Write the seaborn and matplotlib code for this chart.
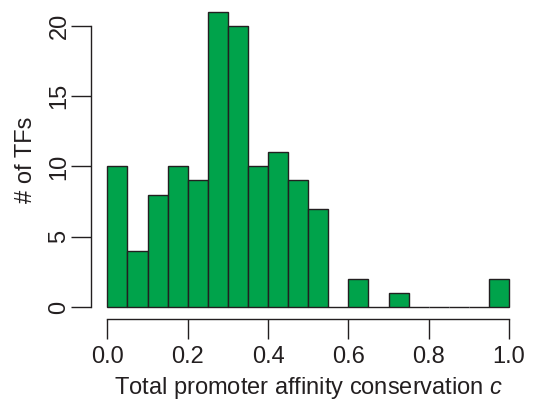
import numpy as np
import pandas as pd
import matplotlib
matplotlib.use("Agg")
import matplotlib.pyplot as plt
import seaborn as sns

# histogram bins (width 0.05) and counts
bin_edges = [0.00, 0.05, 0.10, 0.15, 0.20, 0.25, 0.30, 0.35, 0.40, 0.45, 0.50,
             0.55, 0.60, 0.65, 0.70, 0.75, 0.80, 0.85, 0.90, 0.95, 1.00]
counts = [10, 4, 8, 10, 9, 21, 20, 10, 11, 9, 7,
          0, 2, 0, 1, 0, 0, 0, 0, 2]
x_ticks = [0.0, 0.2, 0.4, 0.6, 0.8, 1.0]
y_ticks = [0, 5, 10, 15, 20]

sns.set_style("ticks")
plt.rcParams["font.family"] = ["Liberation Sans", "DejaVu Sans"]
plt.rcParams["mathtext.fontset"] = "custom"
plt.rcParams["mathtext.it"] = "Liberation Sans:italic"
plt.rcParams["mathtext.rm"] = "Liberation Sans"

ink = "#231f20"
green = "#00a34b"
fs = 17

edges = np.array(bin_edges)
df = pd.DataFrame({"c": (edges[:-1] + edges[1:]) / 2, "n": counts})

fig = plt.figure(figsize=(5.43, 4.0), dpi=100)
ax = fig.add_axes([0.1681, 0.203, 0.7989, 0.797])

sns.histplot(data=df, x="c", weights="n", bins=bin_edges, ax=ax,
             color=green, alpha=1, edgecolor=ink, linewidth=1.0)

ax.set_xlim(-0.04, 1.04)
ax.set_ylim(-0.84, 21.84)

ax.set_xticks(x_ticks)
ax.set_xticklabels([f"{t:.1f}" for t in x_ticks])
ax.set_yticks(y_ticks)
ax.set_yticklabels([str(t) for t in y_ticks], rotation=90, va="center")

ax.tick_params(axis="both", length=14.4, width=1.0, color=ink,
               labelsize=fs, labelcolor=ink)
ax.tick_params(axis="x", pad=5.0)
ax.tick_params(axis="y", pad=0.5)

for side in ["top", "right"]:
    ax.spines[side].set_visible(False)
ax.spines["left"].set_bounds(0, 20)
ax.spines["bottom"].set_bounds(0, 1)
for side in ["left", "bottom"]:
    ax.spines[side].set_linewidth(1.0)
    ax.spines[side].set_color(ink)

ax.set_xlabel("Total promoter affinity conservation $c$", fontsize=fs, color=ink,
              va="baseline")
ax.set_ylabel("# of TFs", fontsize=fs, color=ink, va="baseline")
ax.xaxis.set_label_coords(0.5, -0.236)
ax.yaxis.set_label_coords(-0.137, 0.5)

fig.savefig("out.png", dpi=100)
